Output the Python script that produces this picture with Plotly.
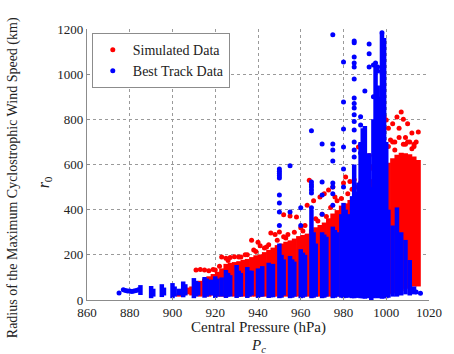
import plotly.graph_objects as go

# ---------------- data ----------------
# Simulated data: dense vertical ranges (pressure, low radius, high radius)
sim_p = [903, 905, 907, 909, 911, 913, 915, 917, 919, 921, 923, 925, 927, 929, 931, 933, 935, 937, 939,
         941, 943, 945, 947, 949, 951, 953, 955, 957, 959, 961, 963, 965, 967, 969, 971, 973, 975, 977,
         979, 981, 983, 985, 987, 989, 991, 993, 995, 997, 999, 1001, 1003, 1005, 1007, 1009, 1011, 1013, 1015]
sim_lo = [15, 20, 25, 20, 20, 15, 20, 15, 20, 15, 15, 15, 20, 15, 15, 15, 15, 15, 15,
          15, 15, 15, 15, 15, 15, 15, 15, 15, 15, 15, 15, 15, 15, 15, 15, 15, 15, 15,
          15, 15, 15, 15, 15, 15, 15, 20, 20, 20, 20, 25, 30, 35, 40, 50, 55, 60, 60]
sim_hi = [30, 40, 55, 60, 70, 85, 95, 105, 115, 125, 140, 160, 165, 168, 172, 178, 182, 190, 198,
          202, 212, 222, 232, 243, 250, 258, 264, 272, 283, 288, 294, 312, 322, 332, 343, 362, 383, 398,
          418, 428, 443, 456, 472, 495, 515, 535, 552, 572, 588, 608, 628, 643, 652, 650, 645, 635, 620]
# Simulated data: scattered points above the dense region
sim_out_p = [911, 913, 915, 917, 919, 920, 923, 925, 927, 929, 931, 937, 938, 940, 941, 946, 948, 950, 952,
             952, 955, 958, 963, 964, 966, 969, 971, 973, 975, 976, 980, 981, 983, 985, 986, 987, 989, 990,
             992, 993, 995, 996, 998, 999, 1000, 1001, 1002, 1003, 1004, 1005, 1006, 1007, 1008, 1009, 1010,
             1011, 1012, 1013, 1014, 1015, 1003, 1006, 1009, 1012,
             935, 943, 945, 954, 957, 960, 962, 967, 970, 974, 977, 979, 982, 984, 988, 991, 994, 997,
             999, 1001, 1004, 1008, 1010, 1013, 922, 926, 932, 934, 939, 944, 949, 953, 961, 968, 972]
sim_out_r = [133, 135, 133, 130, 135, 133, 190, 185, 188, 192, 190, 265, 221, 256, 240, 297, 290, 301, 280,
             377, 372, 368, 420, 530, 440, 456, 470, 487, 500, 456, 518, 545, 525, 532, 500, 678, 520, 600,
             640, 589, 690, 610, 740, 811, 797, 760, 709, 780, 664, 810, 760, 833, 800, 720, 780,
             700, 740, 680, 700, 744, 700, 720, 690, 670,
             200, 230, 245, 290, 300, 320, 330, 360, 380, 410, 440, 450, 470, 490, 520, 560, 580, 620,
             650, 680, 700, 690, 700, 690, 150, 175, 190, 200, 215, 235, 265, 275, 305, 350, 370]

# Best track data: vertical ranges (pressure, low radius, high radius)
bt_p = [885, 890, 891, 895, 896, 900, 901, 903, 905, 906, 910, 911, 912, 915, 916, 918, 920, 921, 923,
        925, 926, 927, 930, 931, 932, 935, 936, 937, 940, 941, 942, 945, 946, 947, 950, 951, 952,
        955, 956, 957, 960, 961, 962, 965, 966, 967, 970, 971, 972, 975, 976, 977, 979, 980, 981, 982,
        984, 985, 986, 987, 988, 989, 990, 991, 992, 993, 994, 995, 996, 997, 998, 999, 1000,
        1001, 1003, 1005, 1007, 1009, 1011, 1013]
bt_lo = [22, 8, 15, 13, 20, 8, 15, 20, 12, 20, 8, 15, 20, 10, 15, 20, 9, 15, 15,
         9, 15, 15, 9, 15, 15, 9, 15, 20, 9, 15, 15, 9, 12, 12, 8, 10, 20,
         8, 10, 15, 8, 10, 15, 8, 10, 15, 8, 10, 15, 8, 10, 15, 10, 8, 10, 10,
         8, 8, 10, 10, 8, 8, 5, 10, 8, 0, 8, 10, 8, 10, 5, 8, 8,
         10, 15, 15, 20, 25, 20, 25]
bt_hi = [66, 62, 50, 70, 55, 75, 60, 50, 82, 70, 97, 85, 80, 102, 95, 90, 105, 95, 100,
         133, 120, 110, 155, 130, 120, 146, 130, 130, 140, 130, 150, 165, 150, 160, 250, 200, 180,
         195, 180, 170, 225, 210, 200, 400, 300, 250, 300, 290, 280, 325, 310, 300, 380, 430, 400, 380,
         460, 600, 480, 520, 700, 760, 770, 600, 650, 500, 800, 1040, 950, 900, 1180, 1160, 700,
         400, 330, 410, 300, 266, 177, 60]
# Best track data: isolated points
bt_out_p = [875, 877, 878, 879, 880, 881, 882, 883, 884, 1014, 1016,
            950, 950, 950, 950, 950, 950, 950, 950, 950, 955, 955, 960, 960,
            965, 965, 965, 965, 965, 965, 965, 970, 970, 970, 970,
            975, 975, 975, 975, 975, 975, 975, 975, 980, 980, 980, 980, 980, 980,
            985, 985, 985, 985, 985, 985, 985, 985, 985, 985, 985, 985, 985, 985, 985,
            988, 988, 988, 988, 990, 992, 992, 992, 994, 994, 995, 996, 996, 998, 998]
bt_out_r = [31, 45, 42, 40, 40, 38, 40, 42, 45, 35, 30,
            580, 570, 560, 550, 540, 465, 430, 390, 330, 594, 390, 408, 330,
            749, 523, 510, 500, 487, 474, 408, 691, 523, 465, 380,
            1174, 691, 664, 616, 518, 500, 470, 420, 1054, 877, 757, 678, 580, 500,
            1147, 1139, 1076, 1050, 1032, 979, 895, 870, 850, 820, 790, 753, 700, 664, 633,
            811, 775, 687, 651, 926, 1134, 1090, 1032, 1041, 900, 1050, 1032, 1014, 1183, 1005]

x_ticks = [860, 880, 900, 920, 940, 960, 980, 1000, 1020]
y_ticks = [0, 200, 400, 600, 800, 1000, 1200]

RED = "#ff0000"
BLUE = "#0000ff"
FONT = "Liberation Serif, serif"


def segments(ps, los, his):
    xs, ys = [], []
    for p, lo, hi in zip(ps, los, his):
        xs += [p, p, None]
        ys += [lo, hi, None]
    return xs, ys


fig = go.Figure()

sx, sy = segments(sim_p, sim_lo, sim_hi)
fig.add_trace(go.Scatter(x=sx, y=sy, mode="lines", line=dict(color=RED, width=5),
                         showlegend=False, hoverinfo="skip"))
fig.add_trace(go.Scatter(x=sim_out_p, y=sim_out_r, mode="markers", name="Simulated Data",
                         marker=dict(color=RED, size=5)))

bx, by = segments(bt_p, bt_lo, bt_hi)
fig.add_trace(go.Scatter(x=bx, y=by, mode="lines", line=dict(color=BLUE, width=4.5),
                         showlegend=False, hoverinfo="skip"))
fig.add_trace(go.Scatter(x=bt_out_p, y=bt_out_r, mode="markers", name="Best Track Data",
                         marker=dict(color=BLUE, size=5)))

grid = dict(showgrid=True, gridcolor="#9a9a9a", griddash="dot", gridwidth=1,
            zeroline=False, showline=True, linecolor="#8c8c8c", linewidth=1.2,
            ticks="inside", ticklen=3, tickcolor="#8c8c8c",
            tickfont=dict(family=FONT, size=13, color="#222"))

fig.update_xaxes(range=[860, 1020], tickvals=x_ticks, **grid)
fig.update_yaxes(range=[0, 1200], tickvals=y_ticks, **grid)

fig.update_layout(
    width=454, height=354,
    margin=dict(l=87, r=20, t=29, b=54),
    paper_bgcolor="white", plot_bgcolor="white",
    font=dict(family=FONT, size=14, color="#222"),
    legend=dict(x=0.014, y=0.985, xanchor="left", yanchor="top",
                bgcolor="white", bordercolor="#8c8c8c", borderwidth=1,
                font=dict(family=FONT, size=14, color="#222"),
                itemwidth=30, tracegroupgap=0),
    annotations=[
        dict(text="Central Pressure (hPa)", xref="paper", yref="paper", x=0.5, y=-0.1,
             xanchor="center", yanchor="middle", showarrow=False,
             font=dict(family=FONT, size=15, color="#222")),
        dict(text="<i>P</i><sub><i>c</i></sub>", xref="paper", yref="paper", x=0.5, y=-0.17,
             xanchor="center", yanchor="middle", showarrow=False,
             font=dict(family=FONT, size=15, color="#222")),
        dict(text="Radius of the Maximum Cyclostrophic Wind Speed (km)", xref="paper", yref="paper",
             x=-0.216, y=0.45, xanchor="center", yanchor="middle", textangle=-90, showarrow=False,
             font=dict(family=FONT, size=14, color="#222")),
        dict(text="<i>r</i><sub>0</sub>", xref="paper", yref="paper",
             x=-0.125, y=0.435, xanchor="center", yanchor="middle", textangle=-90, showarrow=False,
             font=dict(family=FONT, size=16, color="#222")),
    ],
)

fig.write_html("out.html")
